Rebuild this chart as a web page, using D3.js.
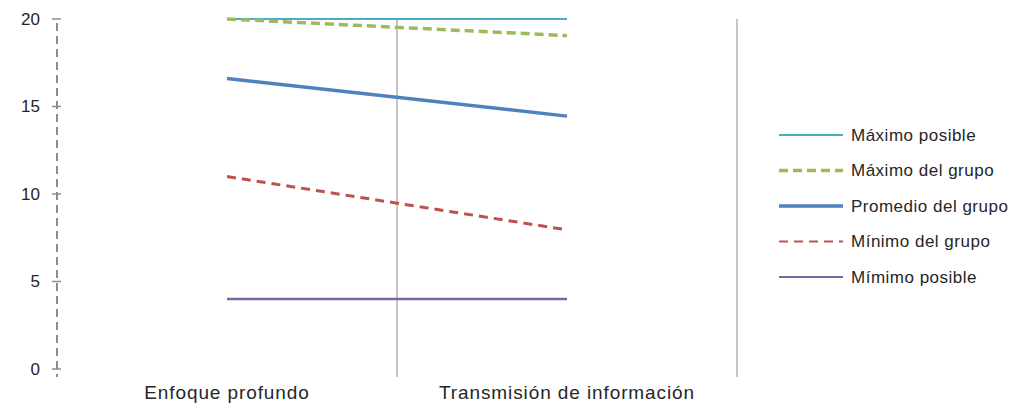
<!DOCTYPE html>
<html>
<head>
<meta charset="utf-8">
<script src="https://cdn.jsdelivr.net/npm/d3@7"></script>
<style>
  html, body { margin: 0; padding: 0; background: #fff; }
  svg { display: block; }
  text { font-family: "Liberation Sans", Arial, sans-serif; fill: #262626; }
</style>
</head>
<body>
<svg id="chart" width="1036" height="406"></svg>
<script>
const categories = ["Enfoque profundo", "Transmisión de información"];
const seriesNames = ["Máximo posible", "Máximo del grupo", "Promedio del grupo", "Mínimo del grupo", "Mímimo posible"];
const maxPosible = [20, 20];
const maxGrupo = [20, 19.05];
const promedio = [16.6, 14.45];
const minGrupo = [11, 7.95];
const minPosible = [4, 4];
const yTicks = [0, 5, 10, 15, 20];

const seriesValues = [maxPosible, maxGrupo, promedio, minGrupo, minPosible];
const seriesStyle = [
  { color: "#4bacc6", width: 2, dash: null, legendWidth: 2 },
  { color: "#9bbb59", width: 3.5, dash: "9,5", legendWidth: 3.5 },
  { color: "#4f81bd", width: 3.5, dash: null, legendWidth: 3.5 },
  { color: "#c0504d", width: 3, dash: "9,6", legendWidth: 2.2 },
  { color: "#8064a2", width: 2.5, dash: null, legendWidth: 2.2 }
];

const svg = d3.select("#chart");
const mLeft = 57, mRight = 737, mTop = 19, mBottom = 369;

const x = d3.scaleBand().domain(categories).range([mLeft, mRight]);
const y = d3.scaleLinear().domain([0, 20]).range([mBottom, mTop]);

// separators between categories
svg.append("g").selectAll("line")
  .data(categories)
  .join("line")
  .attr("x1", d => x(d) + x.bandwidth())
  .attr("x2", d => x(d) + x.bandwidth())
  .attr("y1", y(20))
  .attr("y2", mBottom + 8)
  .attr("stroke", "#a6a6a6")
  .attr("stroke-width", 1.3);

// y axis
const yAxis = svg.append("g").attr("transform", `translate(${mLeft},0)`);
yAxis.append("line")
  .attr("x1", 0).attr("x2", 0)
  .attr("y1", y(20)).attr("y2", mBottom + 8)
  .attr("stroke", "#8c8c8c")
  .attr("stroke-width", 2)
  .attr("stroke-dasharray", "8,5")
  .attr("stroke-dashoffset", -4);
yAxis.selectAll(".tick")
  .data(yTicks)
  .join("line")
  .attr("x1", -5).attr("x2", 4)
  .attr("y1", d => y(d)).attr("y2", d => y(d))
  .attr("stroke", "#8c8c8c")
  .attr("stroke-width", 1.5);
yAxis.selectAll("text")
  .data(yTicks)
  .join("text")
  .attr("x", -17)
  .attr("y", d => y(d))
  .attr("dy", "0.35em")
  .attr("text-anchor", "end")
  .style("font-size", "17px")
  .text(d => d);

// x labels
svg.append("g").selectAll("text")
  .data(categories)
  .join("text")
  .attr("x", d => x(d) + x.bandwidth() / 2)
  .attr("y", 399)
  .attr("text-anchor", "middle")
  .style("font-size", "19px")
  .style("letter-spacing", "0.9px")
  .text(d => d);

// series lines
const line = d3.line()
  .x((d, i) => x(categories[i]) + x.bandwidth() / 2)
  .y(d => y(d));

svg.append("g").selectAll("path")
  .data(seriesValues)
  .join("path")
  .attr("d", d => line(d))
  .attr("fill", "none")
  .attr("stroke", (d, i) => seriesStyle[i].color)
  .attr("stroke-width", (d, i) => seriesStyle[i].width)
  .attr("stroke-dasharray", (d, i) => seriesStyle[i].dash);

// legend
const legend = svg.append("g");
const rows = legend.selectAll("g")
  .data(seriesNames)
  .join("g")
  .attr("transform", (d, i) => `translate(779, ${135 + i * 35.5})`);
rows.append("line")
  .attr("x1", 0).attr("x2", 64)
  .attr("y1", 0).attr("y2", 0)
  .attr("stroke", (d, i) => seriesStyle[i].color)
  .attr("stroke-width", (d, i) => seriesStyle[i].legendWidth)
  .attr("stroke-dasharray", (d, i) => seriesStyle[i].dash);
rows.append("text")
  .attr("x", 72)
  .attr("y", 0)
  .attr("dy", "0.35em")
  .style("font-size", "17px")
  .style("letter-spacing", "0.5px")
  .text(d => d);
</script>
</body>
</html>
